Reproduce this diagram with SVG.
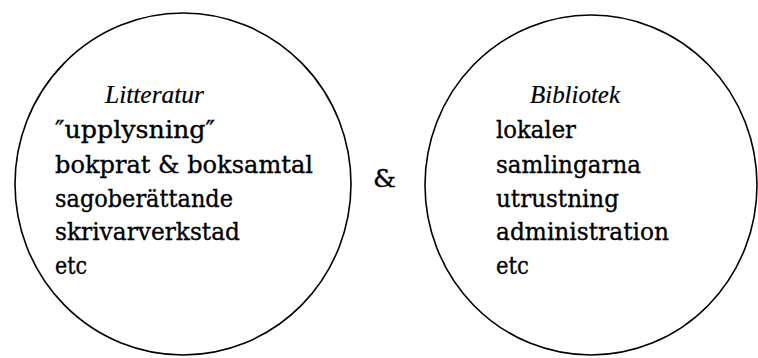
<svg xmlns="http://www.w3.org/2000/svg" width="758" height="358" viewBox="0 0 758 358">
<style>
.c{fill:none;stroke:#000;stroke-width:1.6}
.t{font-family:"DejaVu Serif",serif;font-size:25px;fill:#000;stroke:#000;stroke-width:0.35}
.h{font-family:"Liberation Serif",serif;font-size:26px;font-style:italic;fill:#000;stroke:#000;stroke-width:0.2}
</style>
<rect width="758" height="358" fill="#fff"/>
<g id="litteratur">
<ellipse class="c" cx="183" cy="184" rx="168" ry="171"/>
<text class="h" x="105" y="103" textLength="99" lengthAdjust="spacingAndGlyphs">Litteratur</text>
<text class="t" x="55" y="138" textLength="160" lengthAdjust="spacingAndGlyphs">″upplysning″</text>
<text class="t" x="55" y="173" textLength="258" lengthAdjust="spacingAndGlyphs">bokprat &amp; boksamtal</text>
<text class="t" x="55" y="207" textLength="178" lengthAdjust="spacingAndGlyphs">sagoberättande</text>
<text class="t" x="55" y="240" textLength="185" lengthAdjust="spacingAndGlyphs">skrivarverkstad</text>
<text class="t" x="55" y="274" textLength="32" lengthAdjust="spacingAndGlyphs">etc</text>
</g>
<g id="and">
<text class="t" x="373" y="187" textLength="23" lengthAdjust="spacingAndGlyphs">&amp;</text>
</g>
<g id="bibliotek">
<ellipse class="c" cx="591" cy="185" rx="166" ry="170"/>
<text class="h" x="530" y="103" textLength="90" lengthAdjust="spacingAndGlyphs">Bibliotek</text>
<text class="t" x="496" y="138" textLength="80" lengthAdjust="spacingAndGlyphs">lokaler</text>
<text class="t" x="496" y="173" textLength="145" lengthAdjust="spacingAndGlyphs">samlingarna</text>
<text class="t" x="496" y="207" textLength="123" lengthAdjust="spacingAndGlyphs">utrustning</text>
<text class="t" x="496" y="240" textLength="173" lengthAdjust="spacingAndGlyphs">administration</text>
<text class="t" x="496" y="274" textLength="33" lengthAdjust="spacingAndGlyphs">etc</text>
</g>
<g id="connectors"/>
</svg>
